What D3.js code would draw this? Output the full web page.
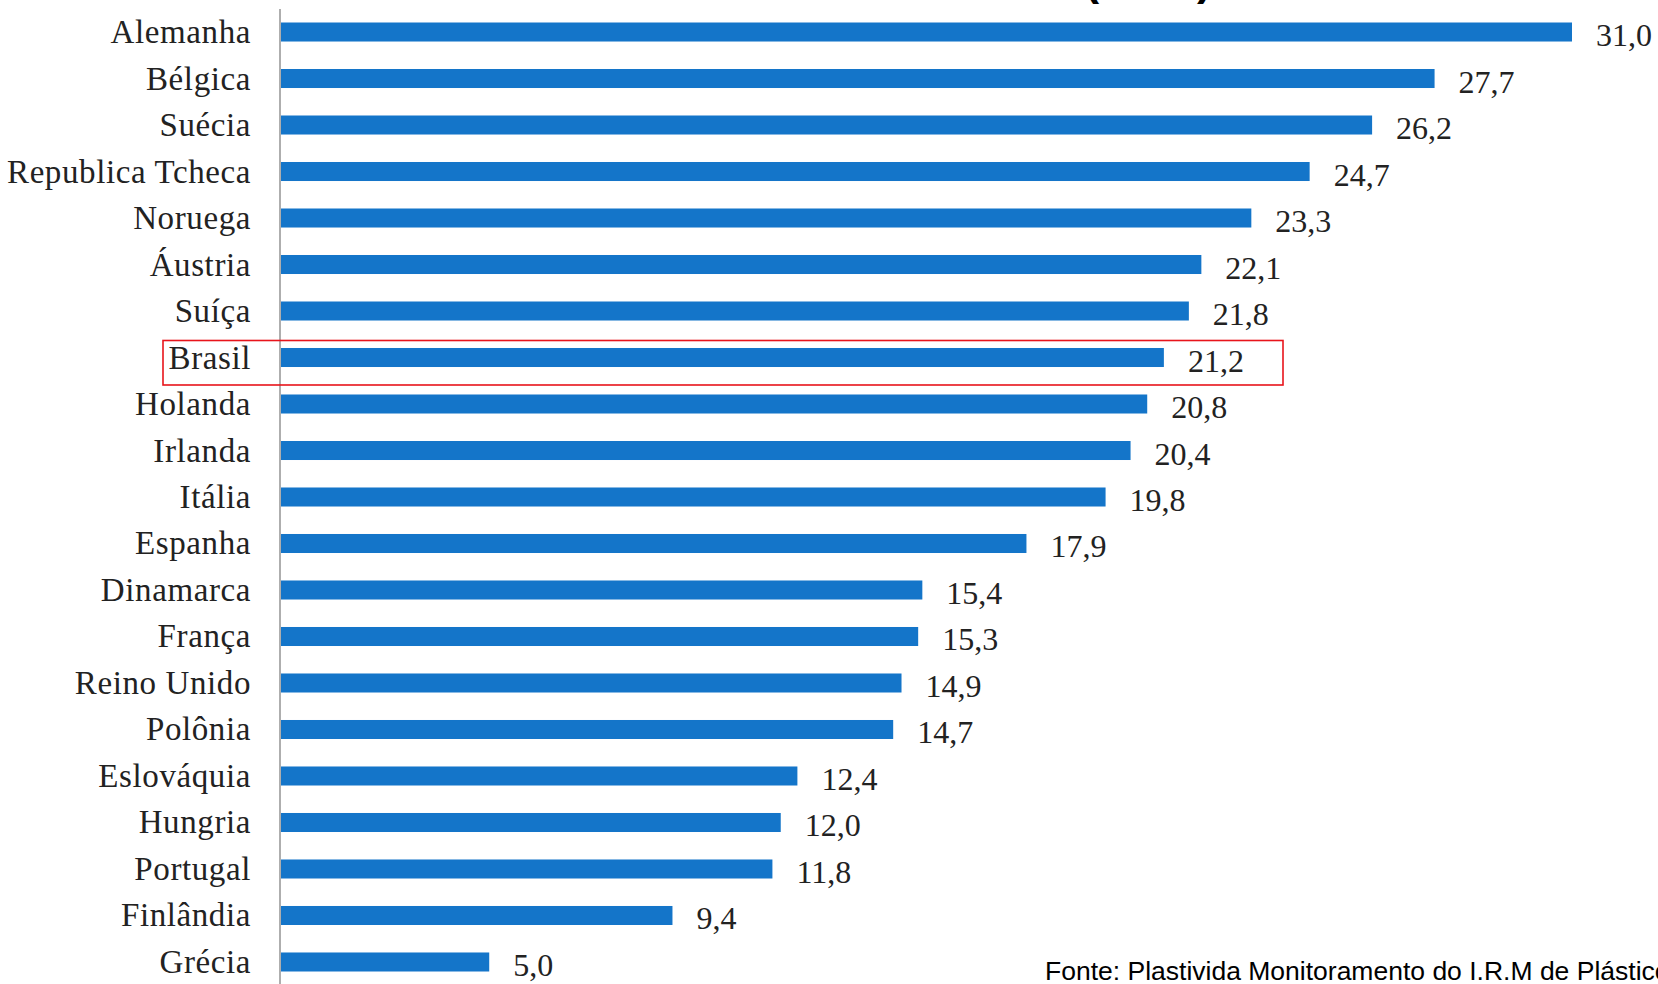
<!DOCTYPE html>
<html>
<head>
<meta charset="utf-8">
<script src="https://cdn.jsdelivr.net/npm/d3@7"></script>
<style>
  body { margin: 0; background: #fff; overflow: hidden; }
  svg { display: block; }
</style>
</head>
<body>
<svg width="1658" height="984"></svg>
<script>
// paises e valores
const countries = ['Alemanha', 'Bélgica', 'Suécia', 'Republica Tcheca', 'Noruega', 'Áustria', 'Suíça',
  'Brasil', 'Holanda', 'Irlanda', 'Itália', 'Espanha', 'Dinamarca', 'França', 'Reino Unido',
  'Polônia', 'Eslováquia', 'Hungria', 'Portugal', 'Finlândia', 'Grécia']
const values = [31.0, 27.7, 26.2, 24.7, 23.3, 22.1, 21.8, 21.2, 20.8, 20.4, 19.8, 17.9, 15.4, 15.3, 14.9,
  14.7, 12.4, 12.0, 11.8, 9.4, 5.0]
const highlight = 'Brasil'
const source = 'Fonte: Plastivida Monitoramento do I.R.M de Plásticos'

document.addEventListener('DOMContentLoaded', () => {
    const svg = d3.select('svg')
    const width = +svg.attr('width')
    const height = +svg.attr('height')

    const data = countries.map((c, i) => ({country: c, value: values[i]}))

    const xScale = d3.scaleLinear()
        .domain([0, 31])
        .range([281, 1572])
    const yScale = d3.scaleBand()
        .domain(countries)
        .range([22.5, 971.5])
        .paddingInner(0.591)
        .paddingOuter(0)

    const fmt = v => d3.format('.1f')(v).replace('.', ',')

    // titulo cortado no topo
    svg.append('text')
        .attr('x', 1148)
        .attr('y', -5)
        .attr('text-anchor', 'middle')
        .attr('font-family', 'Liberation Sans, Arial, sans-serif')
        .attr('font-weight', 'bold')
        .attr('font-size', 44)
        .attr('fill', '#000')
        .text('(2012)')

    const g = svg.append('g')

    g.selectAll('rect').data(data)
        .enter().append('rect')
            .attr('fill', '#1475c9')
            .attr('x', xScale(0))
            .attr('y', d => yScale(d.country))
            .attr('width', d => xScale(d.value) - xScale(0))
            .attr('height', yScale.bandwidth())

    // linha do eixo
    g.append('line')
        .attr('x1', 280).attr('x2', 280)
        .attr('y1', 9).attr('y2', height)
        .attr('stroke', '#9a9a9a')
        .attr('stroke-width', 1.6)

    g.selectAll('.lbl').data(data)
        .enter().append('text')
            .attr('class', 'lbl')
            .attr('x', 251)
            .attr('y', d => yScale(d.country) + yScale.bandwidth() / 2 + 11)
            .attr('text-anchor', 'end')
            .attr('font-family', 'Liberation Serif, serif')
            .attr('font-size', 33)
            .attr('letter-spacing', 0.6)
            .attr('fill', '#222')
            .text(d => d.country)

    g.selectAll('.val').data(data)
        .enter().append('text')
            .attr('class', 'val')
            .attr('x', d => xScale(d.value) + 24)
            .attr('y', d => yScale(d.country) + yScale.bandwidth() / 2 + 14)
            .attr('font-family', 'Liberation Serif, serif')
            .attr('font-size', 32)
            .attr('fill', '#222')
            .text(d => fmt(d.value))

    // destaque do Brasil
    const by = yScale(highlight)
    svg.append('rect')
        .attr('x', 163)
        .attr('y', by - 7.5)
        .attr('width', 1283 - 163)
        .attr('height', 44.5)
        .attr('fill', 'none')
        .attr('stroke', '#e8141b')
        .attr('stroke-width', 1.6)

    svg.append('text')
        .attr('x', 1045)
        .attr('y', 980)
        .attr('font-family', 'Liberation Sans, Arial, sans-serif')
        .attr('font-size', 26.5)
        .attr('fill', '#000')
        .text(source)
})
</script>
</body>
</html>
